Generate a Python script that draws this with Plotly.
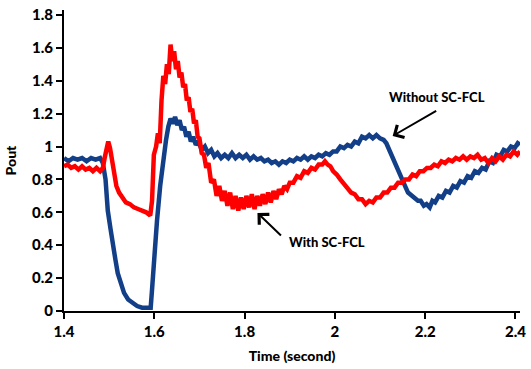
import plotly.graph_objects as go

# Without SC-FCL (blue)
t_without = [1.400,1.410,1.420,1.430,1.440,1.450,1.460,1.470,1.480,1.486,1.492,1.497,1.503,1.508,1.514,1.519,1.526,1.533,1.542,1.551,1.562,1.573,1.584,1.592,1.595,1.599,1.606,1.613,1.617,1.621,1.626,1.631,1.636,1.641,1.646,1.651,1.656,1.661,1.666,1.671,1.676,1.681,1.686,1.692,1.698,1.705,1.712,1.719,1.726,1.733,1.740,1.748,1.756,1.764,1.772,1.780,1.788,1.796,1.804,1.812,1.820,1.828,1.836,1.844,1.852,1.860,1.868,1.876,1.884,1.892,1.900,1.908,1.916,1.924,1.932,1.940,1.948,1.956,1.964,1.972,1.980,1.988,1.996,2.004,2.012,2.020,2.028,2.036,2.044,2.052,2.060,2.068,2.076,2.084,2.092,2.100,2.108,2.114,2.120,2.127,2.134,2.140,2.146,2.151,2.157,2.162,2.170,2.177,2.184,2.190,2.197,2.203,2.210,2.216,2.222,2.230,2.238,2.246,2.254,2.262,2.270,2.278,2.286,2.294,2.302,2.310,2.318,2.326,2.334,2.342,2.350,2.358,2.366,2.374,2.382,2.390,2.398,2.405,2.410]
p_without = [0.93,0.91,0.93,0.92,0.93,0.91,0.93,0.92,0.93,0.90,0.80,0.61,0.50,0.39,0.31,0.23,0.16,0.11,0.07,0.05,0.03,0.02,0.02,0.02,0.13,0.31,0.55,0.76,0.85,0.98,1.04,1.12,1.17,1.14,1.18,1.13,1.16,1.10,1.12,1.06,1.09,1.03,1.06,1.01,1.03,0.98,1.00,0.96,0.98,0.94,0.96,0.93,0.95,0.93,0.96,0.93,0.95,0.93,0.95,0.92,0.94,0.92,0.93,0.91,0.92,0.90,0.91,0.89,0.91,0.90,0.92,0.91,0.93,0.92,0.94,0.92,0.94,0.93,0.95,0.94,0.96,0.95,0.97,0.97,1.00,0.99,1.01,1.00,1.03,1.02,1.06,1.05,1.07,1.05,1.07,1.05,1.04,1.02,0.98,0.95,0.90,0.86,0.81,0.78,0.75,0.72,0.70,0.69,0.67,0.67,0.64,0.65,0.63,0.67,0.66,0.70,0.69,0.73,0.72,0.76,0.75,0.79,0.78,0.82,0.81,0.85,0.84,0.87,0.86,0.91,0.90,0.95,0.94,0.98,0.97,1.00,0.99,1.02,1.01]

# With SC-FCL (red)
t_with = [1.400,1.408,1.416,1.424,1.432,1.440,1.448,1.456,1.464,1.472,1.480,1.486,1.490,1.494,1.498,1.502,1.506,1.511,1.516,1.522,1.529,1.537,1.546,1.555,1.564,1.573,1.582,1.591,1.595,1.599,1.604,1.608,1.612,1.616,1.620,1.624,1.628,1.632,1.636,1.640,1.644,1.648,1.652,1.656,1.660,1.664,1.668,1.672,1.676,1.680,1.684,1.688,1.692,1.696,1.700,1.705,1.710,1.715,1.720,1.726,1.732,1.738,1.744,1.750,1.756,1.762,1.768,1.774,1.780,1.786,1.792,1.798,1.804,1.810,1.816,1.822,1.828,1.834,1.840,1.846,1.852,1.858,1.864,1.870,1.876,1.882,1.888,1.894,1.900,1.908,1.916,1.924,1.932,1.940,1.948,1.956,1.964,1.972,1.978,1.984,1.990,1.996,2.004,2.012,2.020,2.028,2.036,2.044,2.052,2.060,2.068,2.076,2.084,2.092,2.100,2.108,2.116,2.124,2.132,2.140,2.148,2.156,2.164,2.172,2.180,2.188,2.196,2.204,2.212,2.220,2.228,2.236,2.244,2.252,2.260,2.268,2.276,2.284,2.292,2.300,2.308,2.316,2.324,2.332,2.340,2.348,2.356,2.364,2.372,2.380,2.388,2.396,2.404,2.410]
p_with = [0.88,0.89,0.87,0.88,0.86,0.88,0.86,0.87,0.85,0.87,0.85,0.87,0.93,1.00,1.03,0.99,0.92,0.81,0.76,0.72,0.69,0.66,0.65,0.63,0.62,0.61,0.60,0.58,0.67,0.95,1.00,1.08,1.02,1.28,1.43,1.38,1.50,1.44,1.62,1.52,1.58,1.47,1.52,1.42,1.45,1.36,1.38,1.28,1.30,1.21,1.23,1.14,1.16,1.06,1.05,0.96,0.95,0.87,0.90,0.78,0.80,0.70,0.76,0.67,0.73,0.64,0.72,0.62,0.70,0.61,0.69,0.62,0.70,0.63,0.71,0.62,0.70,0.64,0.71,0.65,0.72,0.66,0.73,0.68,0.74,0.71,0.76,0.74,0.78,0.78,0.82,0.81,0.85,0.84,0.87,0.86,0.89,0.89,0.91,0.89,0.88,0.85,0.83,0.80,0.77,0.75,0.72,0.71,0.68,0.68,0.65,0.67,0.66,0.69,0.69,0.72,0.72,0.75,0.75,0.78,0.78,0.80,0.80,0.83,0.82,0.85,0.85,0.87,0.87,0.89,0.88,0.91,0.90,0.92,0.91,0.93,0.92,0.94,0.92,0.94,0.93,0.95,0.92,0.93,0.90,0.93,0.91,0.94,0.92,0.95,0.94,0.97,0.95,0.97]

x_ticks = [1.4, 1.6, 1.8, 2.0, 2.2, 2.4]
x_tick_text = ["1.4", "1.6", "1.8", "2", "2.2", "2.4"]
y_ticks = [0, 0.2, 0.4, 0.6, 0.8, 1.0, 1.2, 1.4, 1.6, 1.8]
y_tick_text = ["0", "0.2", "0.4", "0.6", "0.8", "1", "1.2", "1.4", "1.6", "1.8"]

FONT = "Lato"

fig = go.Figure()
fig.add_trace(go.Scatter(x=t_without, y=p_without, mode="lines",
                         line=dict(color="#123f87", width=4.5), name="Without SC-FCL"))
fig.add_trace(go.Scatter(x=t_with, y=p_with, mode="lines",
                         line=dict(color="#ff0000", width=4.5), name="With SC-FCL"))

tick_font = dict(family=FONT, size=15, color="black", weight=900)
title_font = dict(family=FONT, size=14, color="black", weight=900)

fig.update_layout(
    width=531, height=369,
    margin=dict(l=64, r=5, t=10, b=58),
    paper_bgcolor="white", plot_bgcolor="white",
    showlegend=False,
    xaxis=dict(range=[1.4, 2.41], tickvals=x_ticks, ticktext=x_tick_text,
               showgrid=False, zeroline=False, showline=True, linecolor="black", linewidth=2,
               ticks="outside", ticklen=6, tickwidth=2, tickcolor="black",
               tickfont=tick_font, ticklabeloverflow="allow",
               title=dict(text="Time (second)", font=title_font, standoff=12)),
    yaxis=dict(range=[0, 1.83], tickvals=y_ticks, ticktext=y_tick_text,
               showgrid=False, zeroline=False, showline=True, linecolor="black", linewidth=2,
               ticks="outside", ticklen=6, tickwidth=2, tickcolor="black",
               tickfont=tick_font,
               title=dict(text="Pout", font=title_font, standoff=12)),
)

ann_font = dict(family=FONT, size=13, color="black", weight=900)
# arrows
fig.add_annotation(x=2.128, y=1.064, ax=45, ay=-26, text="", showarrow=True,
                   arrowhead=4, arrowsize=1.4, arrowwidth=2, arrowcolor="black")
fig.add_annotation(x=1.8285, y=0.596, ax=25, ay=24, text="", showarrow=True,
                   arrowhead=4, arrowsize=1.4, arrowwidth=2, arrowcolor="black")
# labels
fig.add_annotation(x=2.2264, y=1.302, text="Without SC-FCL", showarrow=False, font=ann_font)
fig.add_annotation(x=1.9815, y=0.42, text="With SC-FCL", showarrow=False, font=ann_font)

fig.write_html("out.html")
